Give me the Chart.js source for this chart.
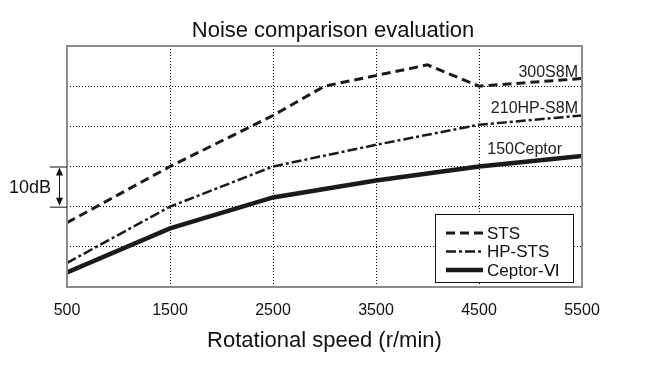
<!DOCTYPE html>
<html>
<head>
<meta charset="utf-8">
<script src="https://cdn.jsdelivr.net/npm/chart.js@4/dist/chart.umd.min.js"></script>
<style>
  html, body { margin: 0; padding: 0; background: #fff; }
  #wrap { width: 652px; height: 375px; }
</style>
</head>
<body>
<div id="wrap"><canvas id="grafico" width="652" height="375"></canvas></div>
<script>
/* DATOS */
const tituloGrafico = "Noise comparison evaluation";
const tituloEjeX = "Rotational speed (r/min)";
const ticksX = [500, 1500, 2500, 3500, 4500, 5500];

const seriesNombres = ["STS", "HP-STS", "Ceptor-\u2165"];
const seriesNotas = ["300S8M", "210HP-S8M", "150Ceptor"];

const velocidadSTS = [500, 1500, 2500, 3000, 4000, 4500, 5500];
const ruidoSTS = [16, 30, 42.7, 50, 55.3, 50, 51.9];

const velocidadHP = [500, 1500, 2500, 3500, 4500, 5500];
const ruidoHP = [6, 20, 30, 35.4, 40.4, 42.7];

const velocidadCeptor = [500, 1500, 2500, 3500, 4500, 5500];
const ruidoCeptor = [3.6, 14.6, 22.3, 26.5, 30, 32.6];

// escala de referencia "10dB" (entre dos lineas de la grilla)
const escalaRef = [20, 30];
const escalaTexto = "10dB";

const fuente = "'Liberation Sans', Arial, sans-serif";
const negro = "#1a1a1a";

/* FUNCIONES */
function armarPuntos(xs, ys) {
  return xs.map((x, i) => ({ x: x, y: ys[i] }));
}

// borde derecho de cada nota, medido desde el borde del area
const notaMargen = [4, 4, 20];

// plugin para marco, leyenda interna, notas de series y marca de 10dB
const decoracion = {
  id: "decoracion",
  afterDatasetsDraw(chart) {
    const ctx = chart.ctx;
    const area = chart.chartArea;
    const sy = chart.scales.y;
    ctx.save();

    // notas al final de cada linea
    ctx.fillStyle = "#222";
    ctx.font = "16px " + fuente;
    ctx.textAlign = "right";
    ctx.textBaseline = "alphabetic";
    chart.data.datasets.forEach((ds, i) => {
      const ultimo = ds.data[ds.data.length - 1];
      ctx.fillText(seriesNotas[i], area.right - notaMargen[i], sy.getPixelForValue(ultimo.y) - 2);
    });

    // leyenda
    const bw = 138, bh = 68;
    const bx = area.right - 9 - bw;
    const by = area.bottom - 5 - bh;
    ctx.fillStyle = "#fff";
    ctx.fillRect(bx, by, bw, bh);
    ctx.strokeStyle = "#111";
    ctx.lineWidth = 1;
    ctx.setLineDash([]);
    ctx.strokeRect(bx + 0.5, by + 0.5, bw, bh);
    chart.data.datasets.forEach((ds, i) => {
      const y = by + 19 + i * 18.5;
      ctx.beginPath();
      ctx.strokeStyle = negro;
      ctx.lineWidth = ds.borderWidth;
      ctx.setLineDash(ds.borderDash || []);
      ctx.moveTo(bx + 11, y);
      ctx.lineTo(bx + 48, y);
      ctx.stroke();
      ctx.setLineDash([]);
      ctx.fillStyle = "#111";
      ctx.font = "17px " + fuente;
      ctx.textAlign = "left";
      ctx.textBaseline = "middle";
      ctx.fillText(ds.label, bx + 52, y + 1);
    });

    // marco gris
    ctx.strokeStyle = "#8c8c8c";
    ctx.lineWidth = 2;
    ctx.setLineDash([]);
    ctx.strokeRect(area.left, area.top, area.right - area.left, area.bottom - area.top);

    // marca 10dB
    const y1 = sy.getPixelForValue(escalaRef[1]);
    const y2 = sy.getPixelForValue(escalaRef[0]);
    const xm = area.left - 8;
    ctx.strokeStyle = "#111";
    ctx.fillStyle = "#111";
    ctx.lineWidth = 1;
    ctx.beginPath();
    ctx.moveTo(area.left - 17, y1 + 0.5); ctx.lineTo(area.left, y1 + 0.5);
    ctx.moveTo(area.left - 17, y2 + 0.5); ctx.lineTo(area.left, y2 + 0.5);
    ctx.moveTo(xm + 0.5, y1 + 6); ctx.lineTo(xm + 0.5, y2 - 6);
    ctx.stroke();
    ctx.beginPath();
    ctx.moveTo(xm + 0.5, y1 + 1); ctx.lineTo(xm - 3, y1 + 9); ctx.lineTo(xm + 4, y1 + 9); ctx.closePath();
    ctx.moveTo(xm + 0.5, y2 - 1); ctx.lineTo(xm - 3, y2 - 9); ctx.lineTo(xm + 4, y2 - 9); ctx.closePath();
    ctx.fill();
    ctx.font = "18px " + fuente;
    ctx.textAlign = "right";
    ctx.textBaseline = "middle";
    ctx.fillText(escalaTexto, area.left - 16, (y1 + y2) / 2 + 1);

    ctx.restore();
  }
};

/* GRAFICO */
const config = {
  type: "line",
  data: {
    datasets: [
      {
        label: seriesNombres[0],
        data: armarPuntos(velocidadSTS, ruidoSTS),
        borderColor: negro,
        borderWidth: 3,
        borderDash: [9, 5]
      },
      {
        label: seriesNombres[1],
        data: armarPuntos(velocidadHP, ruidoHP),
        borderColor: negro,
        borderWidth: 2.5,
        borderDash: [10, 3, 3, 3]
      },
      {
        label: seriesNombres[2],
        data: armarPuntos(velocidadCeptor, ruidoCeptor),
        borderColor: negro,
        borderWidth: 4.5,
        borderDash: []
      }
    ]
  },
  options: {
    responsive: false,
    animation: false,
    devicePixelRatio: 1,
    elements: { point: { radius: 0 }, line: { tension: 0 } },
    layout: { padding: { left: 14, right: 0, top: 0, bottom: 0 } },
    plugins: {
      legend: { display: false },
      tooltip: { enabled: false },
      title: {
        display: true,
        text: tituloGrafico,
        color: "#111",
        font: { family: fuente, size: 22, weight: "normal" },
        padding: { top: 18, bottom: 1.6 }
      }
    },
    scales: {
      x: {
        type: "linear",
        min: ticksX[0],
        max: ticksX[ticksX.length - 1],
        afterBuildTicks: (scale) => { scale.ticks = ticksX.map(v => ({ value: v })); },
        afterFit: (scale) => { scale.height = 88; },
        ticks: {
          color: "#111",
          font: { family: fuente, size: 16 },
          padding: 14,
          maxRotation: 0,
          callback: (v) => String(v)
        },
        grid: { color: "#000", lineWidth: 1, drawTicks: false },
        border: { display: false, dash: [1, 2] },
        title: {
          display: true,
          text: tituloEjeX,
          color: "#111",
          font: { family: fuente, size: 22 },
          padding: { top: 0, bottom: 20.8 }
        }
      },
      y: {
        min: 0,
        max: 60,
        ticks: { display: false, stepSize: 10 },
        afterFit: (scale) => { scale.width = 53; },
        grid: { color: "#000", lineWidth: 1, drawTicks: false },
        border: { display: false, dash: [1, 2] }
      },
      yDer: {
        position: "right",
        ticks: { display: false },
        grid: { display: false, drawTicks: false },
        border: { display: false },
        afterFit: (scale) => { scale.width = 70; }
      }
    }
  },
  plugins: [decoracion]
};

const grafico = new Chart(document.getElementById("grafico"), config);
</script>
</body>
</html>
